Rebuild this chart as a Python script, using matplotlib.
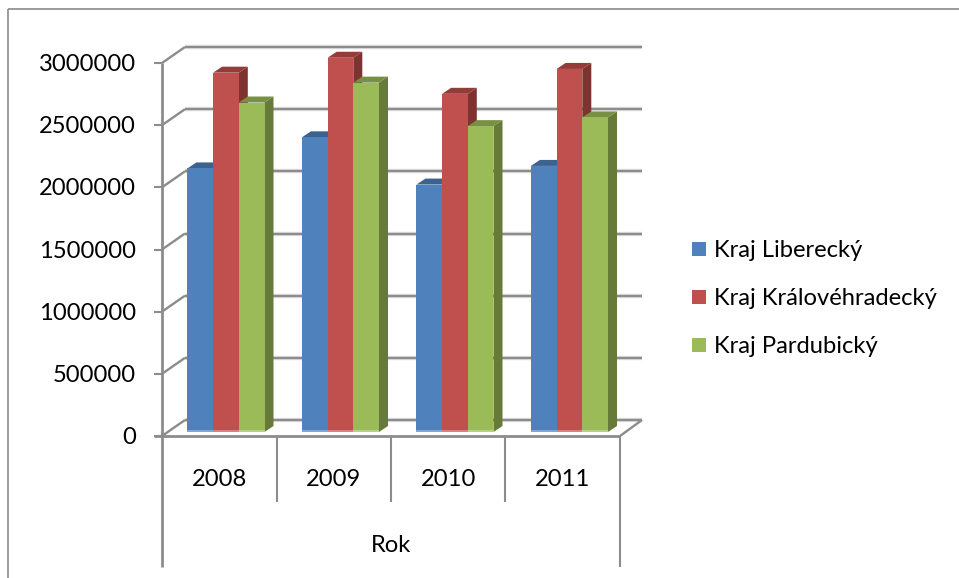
import matplotlib
matplotlib.use('Agg')
import numpy as np
from matplotlib import pyplot as plt
from matplotlib.lines import Line2D
from matplotlib.patches import Polygon, Rectangle
from matplotlib.transforms import Affine2D

years = ['2008', '2009', '2010', '2011']
series_names = ['Kraj Liberecký', 'Kraj Královéhradecký', 'Kraj Pardubický']
liberecky = [2120000, 2370000, 1990000, 2140000]
kralovehradecky = [2890000, 3010000, 2720000, 2920000]
pardubicky = [2650000, 2810000, 2460000, 2530000]
y_ticks = [0, 500000, 1000000, 1500000, 2000000, 2500000, 3000000]
axis_title = 'Rok'

front_colors = ['#4f81bd', '#c0504d', '#9bbb59']
top_colors = ['#3c6290', '#943c3a', '#779044']
side_colors = ['#35577f', '#7f3331', '#667b3a']
GRAY = '#8c8c8c'
W, H = 959, 578
FS = 17.1

plt.rcParams['font.family'] = ['Lato', 'DejaVu Sans']

fig = plt.figure(figsize=(W / 100, H / 100), dpi=100)
ax = fig.add_axes([162 / W, 1 - 436 / H, 458 / W, 373 / H], zorder=2)
ax.set_xlim(0, 4)
ax.set_ylim(0, 3000000)
ax.axis('off')

ppx = 4 / 458          # data units per pixel, x
ppy = 3000000 / 373    # data units per pixel, y


def fig_line(x, y, color=GRAY, lw=1.5, z=1):
    # x, y in image pixels, y going down
    fig.add_artist(Line2D([v / W for v in x], [1 - v / H for v in y],
                          color=color, lw=lw, zorder=z, solid_capstyle='butt'))


# chart frame
fig_line([8, 8], [9, 578], color='#8a8a8a', lw=1.2)
fig_line([8, 959], [9, 9], color='#8a8a8a', lw=1.2)

# back wall grid and the diagonals to the axis, all behind the bars
for t in y_ticks:
    ypos = 436 - t / ppy
    fig_line([185, 642], [ypos - 16, ypos - 16], color='#e4e4e4', lw=3.2, z=0)
    fig_line([185, 642], [ypos - 16, ypos - 16], lw=1.7, z=1)
    fig_line([162, 185], [ypos, ypos - 16], lw=1.7)
    fig_line([154, 162], [ypos, ypos], lw=1.5)
    fig.text(136 / W, 1 - (ypos + 1.5) / H, str(t), ha='right', va='center', fontsize=FS, color='black')

# floor
fig_line([620, 642], [436, 420], lw=1.7)

# bars sit a little inside the floor
bar_trans = ax.transData + Affine2D().translate(6.7, 4)
bar_w = 25.7 * ppx
dx, dy = 9 * ppx, 6 * ppy
x0 = np.arange(len(years)) + 0.5

for k, vals in enumerate([liberecky, kralovehradecky, pardubicky]):
    xs = x0 + (k - 1) * bar_w
    z = 3 + k
    ax.bar(xs, vals, width=bar_w, color=front_colors[k], transform=bar_trans, zorder=z + 0.2,
           clip_on=False, linewidth=0)
    for xc, v in zip(xs, vals):
        l, r = xc - bar_w / 2, xc + bar_w / 2
        ax.add_patch(Polygon([(l, v), (r, v), (r + dx, v + dy), (l + dx, v + dy)], closed=True,
                             fc=top_colors[k], ec='none', transform=bar_trans, zorder=z, clip_on=False))
        ax.add_patch(Polygon([(r, 0), (r + dx, dy), (r + dx, v + dy), (r, v)], closed=True,
                             fc=side_colors[k], ec='none', transform=bar_trans, zorder=z, clip_on=False))
        # light strip at the foot of the bar
        ax.add_patch(Rectangle((l, 0), bar_w, 2 * ppy, fc='white', alpha=0.3, ec='none',
                               transform=bar_trans, zorder=z + 0.3, clip_on=False))

# category axis below the chart, above the bars
fig_line([154, 620], [436, 436], lw=2, z=6)
fig_line([162, 162], [63, 567], lw=2, z=6)
fig_line([620, 620], [436, 567], lw=1.5, z=6)
for i in range(1, len(years)):
    xpos = 162 + i / ppx
    fig_line([xpos, xpos], [436, 502], lw=1.5, z=6)
for i, year in enumerate(years):
    ax.text(i + 0.5, -44 * ppy, year, ha='center', va='center', fontsize=FS, color='black')
ax.text(2, -110 * ppy, axis_title, ha='center', va='center', fontsize=FS, color='black')

# legend
legend_y = [249, 297, 345]
for name, col, ly in zip(series_names, front_colors, legend_y):
    fig.add_artist(Rectangle((692 / W, 1 - (ly + 7) / H), 14 / W, 14 / H, fc=col, ec='none',
                             transform=fig.transFigure))
    fig.text(714 / W, 1 - (ly + 1.5) / H, name, ha='left', va='center', fontsize=FS, color='black')

fig.savefig('out.png', dpi=100)
